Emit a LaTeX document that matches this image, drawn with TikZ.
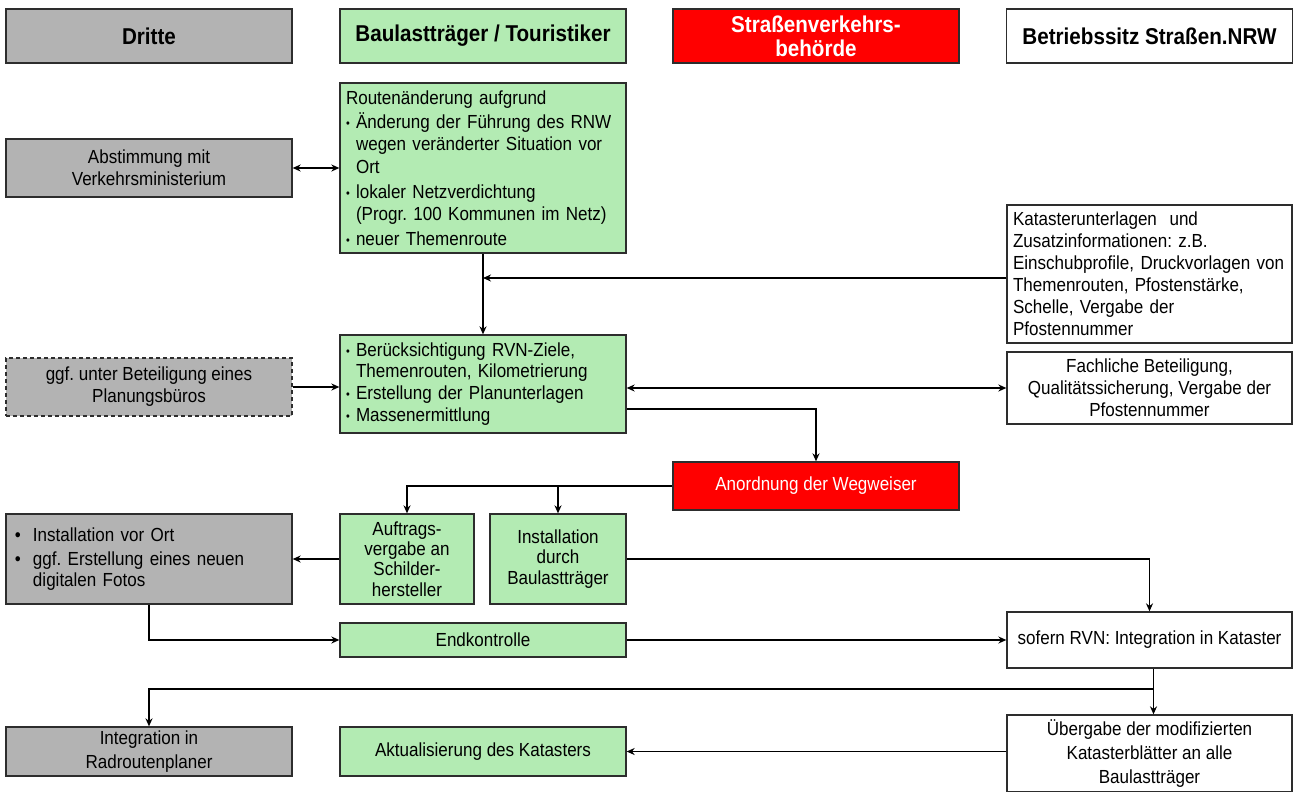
\documentclass[tikz,border=0pt]{standalone}
\usepackage{fontspec}
\setmainfont{Liberation Sans}[FakeStretch=0.9]
\usetikzlibrary{arrows.meta,calc}
\frenchspacing
\definecolor{grayfill}{RGB}{179,179,179}
\definecolor{greenfill}{RGB}{179,235,179}
\definecolor{redfill}{RGB}{255,0,0}
\definecolor{edge}{RGB}{45,45,45}
\newcommand{\bl}{\makebox[10bp][l]{\raisebox{1bp}{\fontsize{12}{12}\selectfont •}}}
\newcommand{\ind}{\hspace*{10bp}}
\newcommand{\blb}{\makebox[18bp][l]{•}}
\begin{document}
\begin{tikzpicture}[x=1bp,y=-1bp,
  base/.style={draw=edge, line width=1.3bp, inner sep=0pt, font=\fontsize{19}{22}\selectfont, align=center, text=black},
  graybox/.style={base, fill=grayfill},
  greenbox/.style={base, fill=greenfill},
  redbox/.style={base, fill=redfill, text=white},
  whitebox/.style={base, fill=white},
  head/.style={font=\bfseries\fontsize{23}{24}\selectfont, minimum height=54bp},
  wide/.style={minimum width=286bp},
  leftbox/.style={align=left, inner xsep=6bp, text width=274bp},
  arr/.style={line width=1.8bp, -{Stealth[length=8bp,width=7bp]}},
  darr/.style={line width=1.8bp, {Stealth[length=8bp,width=7bp]}-{Stealth[length=8bp,width=7bp]}},
  plain/.style={line width=1.8bp}
]
\useasboundingbox (0,0) rectangle (1293,792);

% headers
\node[graybox, wide, head] (dritte) at (149,36) {Dritte};
\node[greenbox, wide, head] (baulast) at (483,36) {Baulastträger / Touristiker};
\node[redbox, wide, head] (svb) at (816,36) {Straßenverkehrs-\\behörde};
\node[whitebox, wide, head] (betrieb) at (1149.5,36) {Betriebssitz Straßen.NRW};

% column 2
\node[greenbox, wide, leftbox, minimum height=170bp, font=\fontsize{19}{22.5}\selectfont] (route) at (483,168) {Routenänderung aufgrund\\[2bp]
\bl Änderung der Führung des RNW\\
\ind wegen veränderter Situation vor\\
\ind Ort\\[2.5bp]
\bl lokaler Netzverdichtung\\
\ind (Progr. 100 Kommunen im Netz)\\[2.5bp]
\bl neuer Themenroute};
\node[greenbox, wide, leftbox, minimum height=98bp] (beruck) at (483,384) {\bl Berücksichtigung RVN-Ziele,\\
\ind Themenrouten, Kilometrierung\\
\bl Erstellung der Planunterlagen\\
\bl Massenermittlung};
\node[greenbox, minimum width=134bp, minimum height=90bp, font=\fontsize{19}{20.5}\selectfont] (auftrag) at (407,559) {Auftrags-\\vergabe an\\Schilder-\\hersteller};
\node[greenbox, minimum width=136bp, minimum height=90bp, font=\fontsize{19}{20.5}\selectfont] (instb) at (558,559) {Installation\\durch\\Baulastträger};
\node[greenbox, wide, minimum height=34bp] (endk) at (483,640) {Endkontrolle};
\node[greenbox, wide, minimum height=49bp] (aktual) at (483,751.5) {Aktualisierung des Katasters};

% column 1
\node[graybox, wide, minimum height=58bp] (abst) at (149,168) {Abstimmung mit\\Verkehrsministerium};
\node[graybox, wide, minimum height=58bp, dashed, dash pattern=on 4bp off 3bp] (planung) at (149,387) {ggf. unter Beteiligung eines\\Planungsbüros};
\node[graybox, wide, align=left, inner xsep=9bp, text width=268bp, minimum height=90bp, font=\fontsize{19}{20.5}\selectfont] (instort) at (149,559) {\blb Installation vor Ort\\[4bp]
\blb ggf. Erstellung eines neuen\\
\hspace*{18bp}digitalen Fotos};
\node[graybox, wide, minimum height=49bp, font=\fontsize{19}{23.5}\selectfont] (integ) at (149,751.5) {Integration in\\Radroutenplaner};

% column 3
\node[redbox, wide, minimum height=48bp] (anord) at (816,486) {Anordnung der Wegweiser};

% column 4
\node[whitebox, minimum width=285bp, leftbox, text width=273bp, minimum height=138bp] (kataster) at (1149.5,274) {Katasterunterlagen\ \ und\\
Zusatzinformationen: z.B.\\
Einschubprofile, Druckvorlagen von\\
Themenrouten, Pfostenstärke,\\
Schelle, Vergabe der\\
Pfostennummer};
\node[whitebox, minimum width=285bp, minimum height=72bp] (fach) at (1149.5,388) {Fachliche Beteiligung,\\Qualitätssicherung, Vergabe der\\Pfostennummer};
\node[whitebox, minimum width=285bp, minimum height=56bp] (sofern) at (1149.5,640) {sofern RVN: Integration in Kataster};
\node[whitebox, minimum width=285bp, minimum height=77bp, font=\fontsize{19}{24.5}\selectfont] (ueber) at (1149.5,753.5) {Übergabe der modifizierten\\Katasterblätter an alle\\Baulastträger};

% connectors
\draw[darr] (abst.east) -- (route.west);
\draw[arr] (route.south) -- (beruck.north);
\draw[arr] ([yshift=-4bp]kataster.west) -- ([yshift=-4bp]kataster.west -| route.south);
\draw[arr] (planung.east) -- (planung.east -| beruck.west);
\draw[darr] (beruck.east |- fach.west) -- (fach.west);
\draw[arr] ([yshift=-25bp]beruck.east) -| (anord.north);
\draw[arr] (anord.west) -| (auftrag.north);
\draw[arr] (anord.west -| instb.north) -- (instb.north);
\draw[arr] (auftrag.west) -- (auftrag.west -| instort.east);
\draw[arr] (instb.east) -| (sofern.north);
\draw[arr] (instort.south) |- (endk.west);
\draw[arr] (endk.east) -- (sofern.west);
\coordinate (br) at ($(sofern.south)!0.45!(ueber.north)$);
\draw[arr] ([xshift=4bp]sofern.south) -- ([xshift=4bp]ueber.north);
\draw[arr] ([xshift=4bp]br) -| (integ.north);
\draw[arr] (aktual.east -| ueber.west) -- (aktual.east);
\end{tikzpicture}
\end{document}
